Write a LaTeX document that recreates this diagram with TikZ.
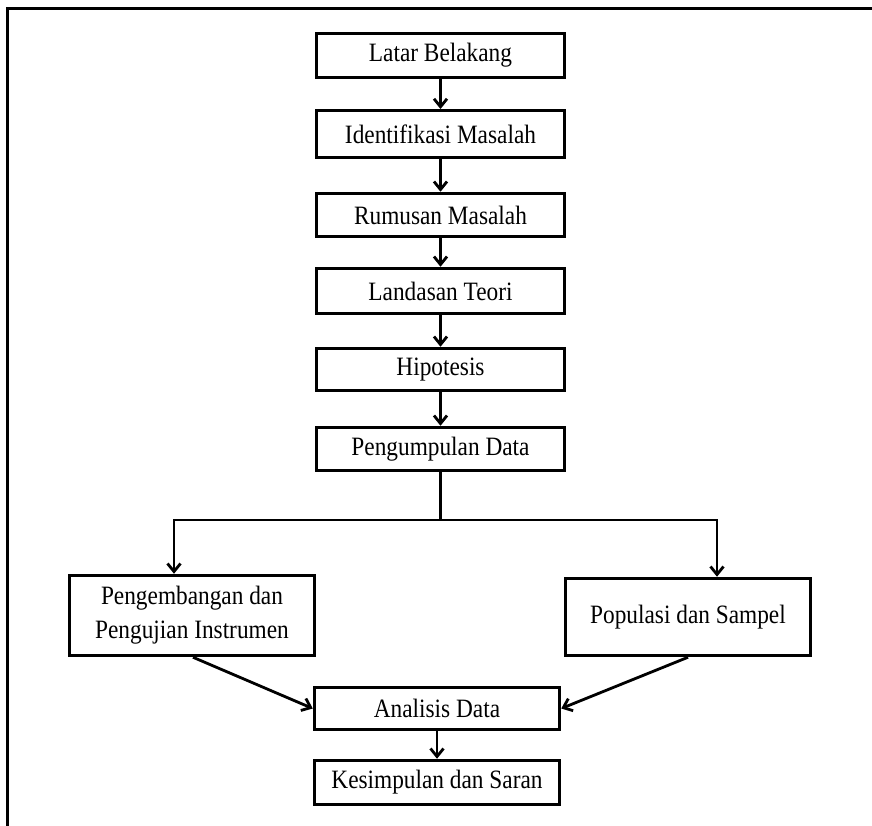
\documentclass[tikz,border=0pt]{standalone}
\usepackage{fontspec}
\setmainfont{Liberation Serif}[FakeStretch=0.88]
\usetikzlibrary{arrows.meta}
\begin{document}
\begin{tikzpicture}[x=1pt,y=-1pt,
  box/.style={draw, line width=3pt, inner sep=0pt, align=center,
    minimum width=248pt, font=\fontsize{26.5}{34}\selectfont},
  link/.style={line width=2.8pt},
  arr/.style={line width=2.8pt, -{Straight Barb[length=8pt,width=13pt]}}]
\useasboundingbox (0,0) rectangle (872,826);
\draw[line width=3.2pt, line join=miter] (7.5,826) -- (7.5,8.7) -- (872,8.7);

\node[box, minimum height=44.5pt] (lat) at (440.5,55.5) {Latar Belakang};
\node[box, minimum height=47pt] (ide) at (440.5,134) {Identifikasi Masalah};
\node[box, minimum height=43.5pt] (rum) at (440.5,215) {Rumusan Masalah};
\node[box, minimum height=45.5pt] (lan) at (440.5,291) {Landasan Teori};
\node[box, minimum height=42.5pt] (hip) at (440.5,369.5) {Hipotesis};
\node[box, minimum height=43.5pt] (pen) at (440.5,449) {Pengumpulan Data};

\node[box, minimum width=245.5pt, minimum height=80.5pt] (dev) at (192,615.5) {Pengembangan dan\\Pengujian Instrumen};
\node[box, minimum width=245.5pt, minimum height=77.5pt] (pop) at (688,617) {Populasi dan Sampel};
\node[box, minimum width=245.5pt, minimum height=42.5pt] (ana) at (437,708.5) {Analisis Data};
\node[box, minimum width=245.5pt, minimum height=44.5pt] (kes) at (437,782.5) {Kesimpulan dan Saran};

\draw[arr] (lat) -- (ide);
\draw[arr] (ide) -- (rum);
\draw[arr] (rum) -- (lan);
\draw[arr] (lan) -- (hip);
\draw[arr] (hip) -- (pen);

\coordinate (j) at (440.5,520);
\coordinate (jl) at (174,520);
\coordinate (jr) at (717,520);
\draw[link] (pen.south) -- (j);
\draw[link, line cap=rect] (jl) -- (jr);
\draw[arr] (jl) -- (jl |- dev.north);
\draw[arr] (jr) -- (jr |- pop.north);

\draw[arr] ([xshift=1pt]dev.south) -- (ana.west);
\draw[arr] (pop.south) -- (ana.east);
\draw[arr] (ana) -- (kes);
\end{tikzpicture}
\end{document}
